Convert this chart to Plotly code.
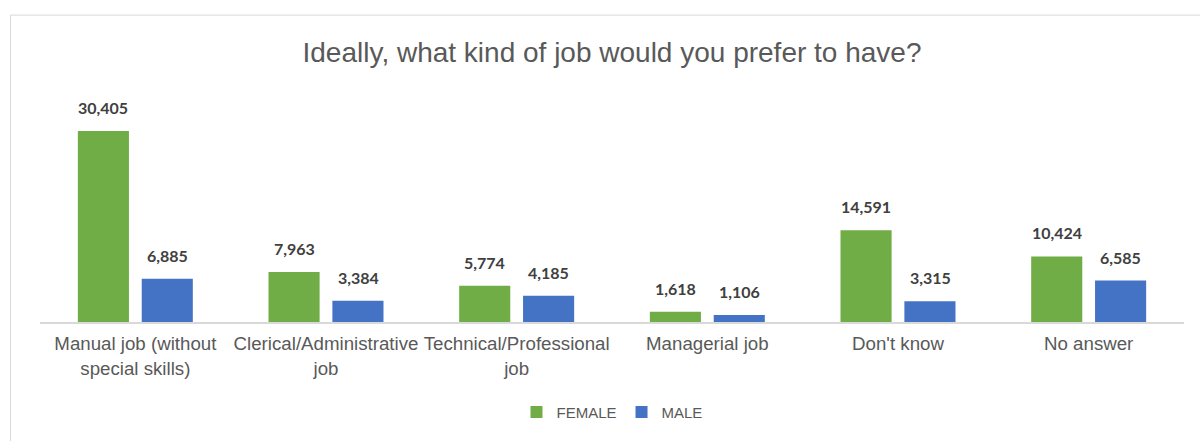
import plotly.graph_objects as go

categories = [
    "Manual job (without<br>special skills)",
    "Clerical/Administrative<br>job",
    "Technical/Professional<br>job",
    "Managerial job",
    "Don't know",
    "No answer",
]
female = [30405, 7963, 5774, 1618, 14591, 10424]
male = [6885, 3384, 4185, 1106, 3315, 6585]

GREEN = "#70AD47"
BLUE = "#4472C4"
TEXT = "#595959"
LABEL = "#404040"

fig = go.Figure()
fig.add_trace(go.Bar(name="FEMALE", x=categories, y=female, marker_color=GREEN,
                     marker_line_width=0))
fig.add_trace(go.Bar(name="MALE", x=categories, y=male, marker_color=BLUE,
                     marker_line_width=0))

# value labels above each bar
for vals, shift in ((female, -32), (male, 32)):
    for c, v in zip(categories, vals):
        fig.add_annotation(x=c, y=v, xref="x", yref="y", text=f"<b>{v:,}</b>",
                           showarrow=False, xshift=shift, yshift=12,
                           yanchor="bottom",
                           font=dict(family="Lato", size=16, color=LABEL))

# outer chart frame
fig.add_shape(type="rect", xref="paper", yref="paper",
              x0=-0.0258, x1=1.2, y0=-1.0, y1=1.395,
              line=dict(color="#D9D9D9", width=1), layer="below")

fig.update_layout(
    width=1200, height=441,
    margin=dict(l=40, r=16, t=102, b=119),
    paper_bgcolor="white", plot_bgcolor="white",
    barmode="group", bargap=0.33, bargroupgap=0.2,
    title=dict(text="Ideally, what kind of job would you prefer to have?",
               x=0.5, xref="paper", xanchor="center", y=1 - 52/441, yref="container",
               yanchor="middle",
               font=dict(family="Liberation Sans", size=28, color=TEXT)),
    legend=dict(orientation="h", x=0.5, xanchor="center", y=-0.41, yanchor="middle",
                font=dict(family="Liberation Sans", size=15, color=TEXT),
                itemwidth=30),
    showlegend=True,
)
fig.update_xaxes(showline=True, linecolor="#D9D9D9", linewidth=1.5, ticks="",
                 tickfont=dict(family="Liberation Sans", size=18.7, color=TEXT),
                 ticklabelstandoff=4,
                 showgrid=False, zeroline=False)
fig.update_yaxes(visible=False, range=[0, 35000], showgrid=False, zeroline=False)

fig.write_html("out.html")
